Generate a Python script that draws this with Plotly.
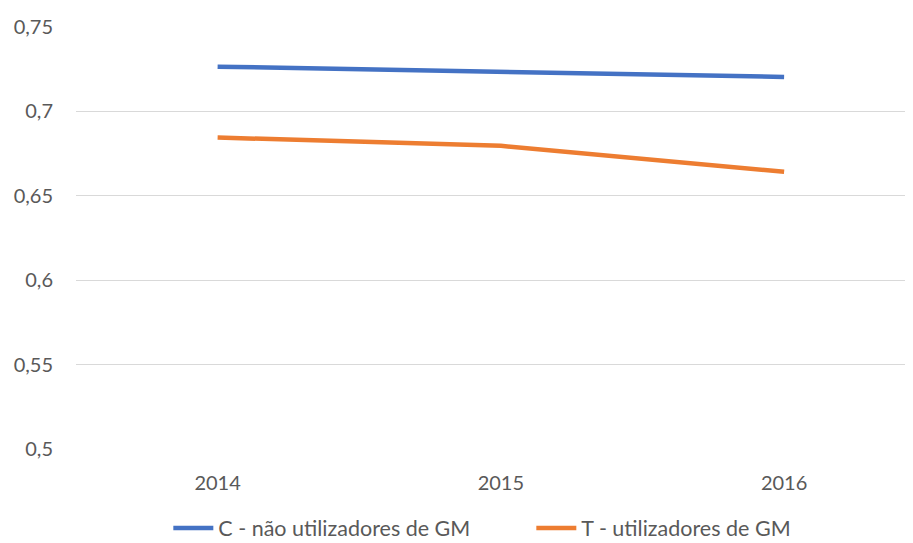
import plotly.graph_objects as go

years = ["2014", "2015", "2016"]
series_c = [0.7265, 0.7234, 0.7204]
series_t = [0.6845, 0.6796, 0.6642]
name_c = "C - não utilizadores de GM"
name_t = "T - utilizadores de GM"
y_ticks = [0.5, 0.55, 0.6, 0.65, 0.7, 0.75]
y_ticktext = ["0,5", "0,55", "0,6", "0,65", "0,7", "0,75"]

font_family = "Lato, 'Open Sans', sans-serif"
text_color = "#595959"

fig = go.Figure()
fig.add_trace(go.Scatter(x=[0, 1, 2], y=series_c, mode="lines", name=name_c,
                         line=dict(color="#4472C4", width=4.5)))
fig.add_trace(go.Scatter(x=[0, 1, 2], y=series_t, mode="lines", name=name_t,
                         line=dict(color="#ED7D31", width=4.5)))

fig.update_layout(
    width=905, height=535,
    margin=dict(l=68, r=0, t=19, b=94),
    plot_bgcolor="white", paper_bgcolor="white",
    font=dict(family=font_family, size=20, color=text_color),
    showlegend=True,
    legend=dict(orientation="h", x=0.544, xanchor="center",
                yref="container", y=0.028, yanchor="middle",
                font=dict(size=21.5, color=text_color), itemwidth=40,
                entrywidth=308, entrywidthmode="pixels",
                traceorder="normal"),
)
fig.update_xaxes(range=[-0.5, 2.455], tickvals=[0, 1, 2], ticktext=years,
                 showgrid=False, zeroline=False, showline=False,
                 ticks="", ticklabelstandoff=20, tickfont=dict(size=20, color=text_color))
fig.update_yaxes(range=[0.5, 0.75], tickvals=y_ticks, ticktext=y_ticktext,
                 showgrid=True, gridcolor="#D9D9D9", gridwidth=1.2,
                 zeroline=False, showline=False, ticks="", ticklabelstandoff=22,
                 tickfont=dict(size=20, color=text_color))

fig.write_html("out.html")
